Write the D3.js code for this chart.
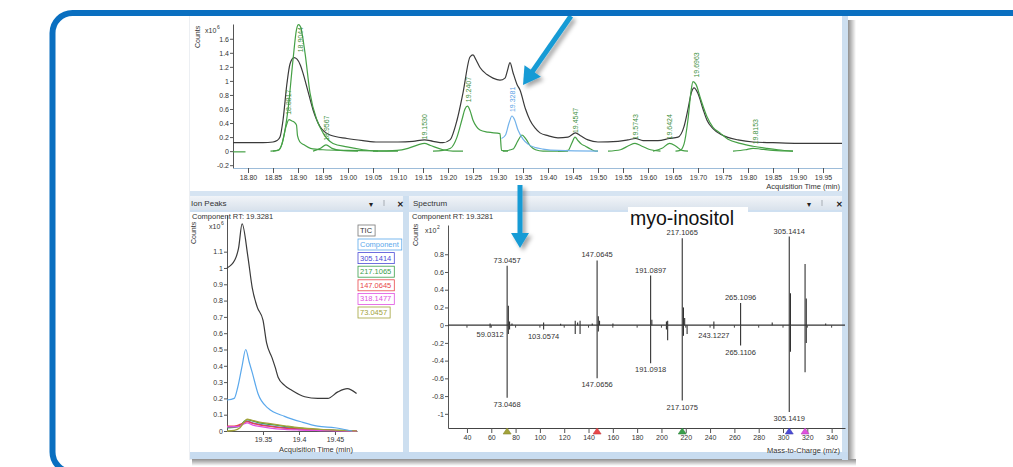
<!DOCTYPE html>
<html lang="en">
<head>
<meta charset="UTF-8">
<title>myo-inositol component</title>
<script src="https://d3js.org/d3.v7.min.js"></script>
<style>
  body { margin: 0; background: #fff; }
  svg text { font-family: "Liberation Sans", Arial, sans-serif; }
</style>
</head>
<body>
<svg width="1013" height="467"></svg>
<script>
// ---------- top chromatogram (min, counts x10^6) ----------
const topXTicks = [18.80,18.85,18.90,18.95,19.00,19.05,19.10,19.15,19.20,19.25,19.30,19.35,19.40,19.45,19.50,19.55,19.60,19.65,19.70,19.75,19.80,19.85,19.90,19.95];
const topYTicks = [-0.2,0,0.2,0.4,0.6,0.8,1,1.2,1.4,1.6];

const ticTop = [[18.77,0.12],[18.80,0.12],[18.83,0.12],[18.85,0.13],[18.858,0.15],[18.864,0.2],[18.87,0.44],[18.878,0.97],[18.884,1.24],[18.892,1.33],[18.898,1.31],[18.905,1.22],[18.91,1.11],[18.92,0.85],[18.93,0.59],[18.944,0.35],[18.964,0.23],[18.998,0.18],[19.03,0.15],[19.06,0.13],[19.10,0.13],[19.13,0.14],[19.153,0.16],[19.17,0.14],[19.19,0.12],[19.204,0.16],[19.218,0.44],[19.23,0.83],[19.244,1.34],[19.25,1.37],[19.256,1.3],[19.264,1.19],[19.278,1.09],[19.29,1.04],[19.304,1.01],[19.314,1.04],[19.319,1.15],[19.324,1.26],[19.33,1.12],[19.338,0.95],[19.344,0.87],[19.355,0.6],[19.364,0.44],[19.374,0.33],[19.384,0.26],[19.40,0.22],[19.42,0.19],[19.44,0.2],[19.455,0.26],[19.465,0.22],[19.48,0.16],[19.50,0.13],[19.54,0.14],[19.56,0.16],[19.575,0.18],[19.59,0.15],[19.62,0.15],[19.643,0.18],[19.66,0.2],[19.672,0.35],[19.68,0.6],[19.687,0.84],[19.692,0.9],[19.70,0.82],[19.71,0.6],[19.718,0.44],[19.73,0.32],[19.745,0.24],[19.758,0.2],[19.78,0.16],[19.81,0.13],[19.85,0.12],[19.90,0.11],[19.988,0.11]];

const cmp18_8817 = [[18.845,0],[18.86,0.01],[18.868,0.1],[18.876,0.35],[18.882,0.45],[18.888,0.43],[18.893,0.41],[18.897,0.37],[18.899,0.22],[18.904,0.13],[18.912,0.09],[18.925,0.04],[18.95,0.02],[19.0,0.01],[19.1,0]];
const cmp18_9044 = [[18.85,0],[18.862,0.02],[18.87,0.16],[18.88,0.59],[18.89,1.3],[18.897,1.73],[18.901,1.8],[18.905,1.77],[18.914,1.4],[18.924,0.83],[18.938,0.44],[18.95,0.26],[18.97,0.11],[18.998,0.06],[19.03,0.02],[19.06,0]];
const cmp18_9567 = [[18.93,0],[18.945,0.04],[18.956,0.09],[18.968,0.04],[18.985,0.01],[19.02,0]];
const cmp19_1530 = [[19.05,0],[19.098,0.01],[19.12,0.04],[19.14,0.09],[19.153,0.11],[19.165,0.08],[19.19,0.02],[19.21,0],[19.23,0]];
const cmp19_2407 = [[19.17,0],[19.19,0.01],[19.205,0.04],[19.218,0.2],[19.228,0.45],[19.234,0.6],[19.239,0.64],[19.244,0.58],[19.25,0.44],[19.257,0.35],[19.264,0.3],[19.28,0.27],[19.304,0.25],[19.307,0.01],[19.32,0]];
const cmp19_3281 = [[19.307,0.18],[19.315,0.23],[19.322,0.4],[19.328,0.5],[19.333,0.45],[19.34,0.3],[19.35,0.17],[19.36,0.1],[19.375,0.05],[19.39,0.03],[19.42,0.01],[19.5,0]];
const cmp19_3480 = [[19.31,0],[19.33,0.03],[19.34,0.15],[19.348,0.23],[19.356,0.17],[19.365,0.07],[19.375,0.02],[19.39,0],[19.44,0]];
const cmp19_4547 = [[19.42,0],[19.44,0.01],[19.448,0.12],[19.454,0.2],[19.46,0.15],[19.467,0.1],[19.475,0.07],[19.485,0.03],[19.495,0],[19.5,0]];
const cmp19_5743 = [[19.52,0],[19.545,0.02],[19.562,0.08],[19.574,0.11],[19.588,0.07],[19.605,0.02],[19.625,0]];
const cmp19_6424 = [[19.61,0],[19.628,0.04],[19.643,0.11],[19.656,0.07],[19.668,0.01],[19.68,0]];
const cmp19_6963 = [[19.655,0],[19.664,0.01],[19.672,0.1],[19.68,0.45],[19.686,0.85],[19.69,0.99],[19.696,0.95],[19.705,0.75],[19.718,0.49],[19.73,0.34],[19.744,0.26],[19.76,0.17],[19.784,0.11],[19.81,0.07],[19.838,0.04],[19.86,0.02],[19.89,0]];
const cmp19_8153 = [[19.77,0],[19.795,0.02],[19.81,0.04],[19.825,0.03],[19.85,0.01],[19.89,0]];

const topPeakLabels = ["18.8817","18.9044","18.9567","19.1530","19.2407","19.3281","19.4547","19.5743","19.6424","19.6963","19.8153"];
const topPeakHeights = [0.46,1.8,0.09,0.11,0.64,0.5,0.2,0.11,0.11,0.99,0.04];

// ---------- ion peaks (min, counts x10^6) ----------
const ionXTicks = [19.35,19.4,19.45];
const ionYTicks = [0,0.1,0.2,0.3,0.4,0.5,0.6,0.7,0.8,0.9,1,1.1];
const ionTicTime = [19.30,19.311,19.316,19.321,19.329,19.335,19.342,19.35,19.355,19.3625,19.367,19.371,19.38,19.39,19.408,19.426,19.44,19.454,19.467,19.48];
const ionTic = [1.0,1.05,1.12,1.27,1.07,0.88,0.76,0.68,0.54,0.45,0.39,0.33,0.28,0.25,0.21,0.2,0.2,0.24,0.26,0.23];
const ionCompTime = [19.30,19.31,19.315,19.321,19.326,19.331,19.335,19.343,19.357,19.38,19.404,19.426,19.45,19.474];
const ionComp = [0.19,0.2,0.27,0.4,0.5,0.42,0.36,0.23,0.14,0.09,0.055,0.03,0.02,0.0];
const ionSmallTime = [19.30,19.31,19.318,19.324,19.328,19.335,19.345,19.36,19.38,19.40,19.43,19.46,19.48];
const ion305 = [0.025,0.027,0.035,0.055,0.06,0.05,0.04,0.03,0.02,0.012,0.006,0.002,0];
const ion217 = [0.02,0.022,0.03,0.06,0.07,0.062,0.05,0.04,0.028,0.018,0.008,0.003,0];
const ion147 = [0.03,0.03,0.04,0.052,0.058,0.048,0.038,0.028,0.018,0.012,0.006,0.002,0];
const ion318 = [0.025,0.026,0.03,0.045,0.05,0.038,0.028,0.018,0.01,0.006,0.003,0.001,0];
const ion73 = [0.0,0.004,0.02,0.055,0.072,0.065,0.055,0.045,0.032,0.02,0.01,0.004,0];
const ionLegend = ["TIC","Component","305.1414","217.1065","147.0645","318.1477","73.0457"];
const ionColors = ["#555555","#5aa8ec","#4b4bd6","#3a9f4a","#e8474a","#e050e0","#a3a33a"];

// ---------- spectrum (m/z, counts x10^2) ----------
const specXTicks = [40,60,80,100,120,140,160,180,200,220,240,260,280,300,320,340];
const specYTicks = [-1,-0.8,-0.6,-0.4,-0.2,0,0.2,0.4,0.6,0.8];
const acqMz  = [59.03,73.05,74.05,75.04,77.04,103.06,117.05,129.07,131.05,133.05,143.07,147.06,148.07,149.05,160.08,191.09,192.09,204.09,205.1,217.11,218.11,219.1,243.12,265.11,291.12,305.14,306.14,318.15,319.15,335.1];
const acqInt = [0.02,0.67,0.22,0.04,0.02,0.03,0.015,0.05,0.03,0.05,0.02,0.73,0.1,0.05,0.02,0.56,0.06,0.04,0.05,0.98,0.2,0.08,0.04,0.25,0.03,1.0,0.36,0.69,0.3,0.02];
const libMz  = [59.03,73.05,74.05,75.04,103.06,129.07,133.05,147.07,148.07,191.09,204.09,205.1,217.11,218.11,221.1,243.12,265.11,305.14,306.14,318.15,319.15];
const libInt = [-0.03,-0.82,-0.1,-0.05,-0.05,-0.1,-0.1,-0.6,-0.07,-0.43,-0.05,-0.17,-0.85,-0.12,-0.1,-0.04,-0.23,-0.98,-0.3,-0.53,-0.2];
const acqLabelMz  = [73.0457,147.0645,191.0897,217.1065,265.1096,305.1414];
const acqLabelInt = [0.67,0.73,0.56,0.98,0.25,1.0];
const libLabelMz  = [73.0468,147.0656,191.0918,217.1075,265.1106,305.1419,59.0312,103.0574,243.1227];
const libLabelInt = [-0.82,-0.6,-0.43,-0.85,-0.23,-0.98,-0.03,-0.05,-0.04];
const markerMz = [73.0457,147.0645,217.1065,305.1414,318.1477];
const markerColors = ["#a3a33a","#e8474a","#3a9f4a","#4b4bd6","#e050e0"];

const svg = d3.select("svg");
const FONT = "Liberation Sans, Arial, sans-serif";
const defs = svg.append("defs");
const sh = defs.append("filter").attr("id", "sh").attr("x", "-50%").attr("y", "-50%").attr("width", "200%").attr("height", "200%");
sh.append("feDropShadow").attr("dx", 3).attr("dy", 3).attr("stdDeviation", 2).attr("flood-color", "#000").attr("flood-opacity", 0.35);
const gShadeH = defs.append("linearGradient").attr("id", "shH");
gShadeH.append("stop").attr("offset", 0).attr("stop-color", "#8f8f8f");
gShadeH.append("stop").attr("offset", 1).attr("stop-color", "#ffffff");
const gShadeV = defs.append("linearGradient").attr("id", "shV").attr("x2", 0).attr("y2", 1);
gShadeV.append("stop").attr("offset", 0).attr("stop-color", "#8f8f8f");
gShadeV.append("stop").attr("offset", 1).attr("stop-color", "#ffffff");
const gTitle = defs.append("linearGradient").attr("id", "tb").attr("x2", 0).attr("y2", 1);
gTitle.append("stop").attr("offset", 0).attr("stop-color", "#f1f4f8");
gTitle.append("stop").attr("offset", 1).attr("stop-color", "#d9e2ec");

function box(x, y, w, h, fill) {
  return svg.append("rect").attr("x", x).attr("y", y).attr("width", w).attr("height", h).attr("fill", fill);
}
function txt(x, y, s, size, opts = {}) {
  return svg.append("text").attr("x", x).attr("y", y).attr("font-size", size)
    .attr("fill", opts.fill || "#333").attr("text-anchor", opts.anchor || "start").text(s);
}

// ---------- window chrome ----------
box(848, 20, 8, 444, "url(#shH)");
box(192, 459, 664, 7, "url(#shV)");
box(189, 16, 3, 444, "#eceff3");
box(190, 16, 652, 176, "#fff");
box(190, 191, 652, 5, "#d6e4f2");
box(190, 196, 213, 14, "url(#tb)");
box(409, 196, 433, 14, "url(#tb)");
box(190, 210, 213, 2, "#cfe0f1");
box(409, 210, 433, 2, "#cfe0f1");
box(190, 212, 213, 240, "#fff");
box(409, 212, 433, 240, "#fff");
box(403, 196, 6, 256, "#cddff0");
box(842, 16, 6, 444, "#cddff0");
box(190, 452, 658, 7, "#c8dcf0");

txt(191, 206, "Ion Peaks", 8);
txt(413, 206, "Spectrum", 8);
[[369, 406], [807, 845]].forEach(([a, b]) => {
  txt(a, 207, "\u25BE", 8, {fill: "#222"});
  box(a + 14, 200, 2, 6, "#c6ccd3");
  txt(b - 6, 207, "\u2715", 8, {fill: "#222", anchor: "middle"}).attr("font-weight", "bold");
});

// ---------- top chart ----------
const xTop = d3.scaleLinear().domain([18.77, 19.988]).range([233, 842]);
const yTop = d3.scaleLinear().domain([-0.24, 1.81]).range([168, 24]);

function styleAxis(g, domainColor) {
  g.attr("font-size", 7).attr("font-family", FONT);
  g.selectAll("text").attr("fill", "#333");
  g.selectAll(".tick line").attr("stroke", "#555");
  g.select(".domain").attr("stroke", domainColor || "#555");
}
const numFmt = d => String(d);

svg.append("g").attr("transform", "translate(233,0)")
  .call(d3.axisLeft(yTop).tickValues(topYTicks).tickSize(3).tickSizeOuter(0).tickPadding(1).tickFormat(numFmt))
  .call(g => styleAxis(g));
svg.append("g").attr("transform", "translate(0,168)")
  .call(d3.axisBottom(xTop).tickValues(topXTicks).tickSize(5).tickSizeOuter(0).tickPadding(2).tickFormat(d3.format(".2f")))
  .call(g => styleAxis(g, "#9dbcd9"));

txt(0, 0, "Counts", 7).attr("transform", "translate(200,48) rotate(-90)");
txt(205, 33, "x10", 7);
txt(217, 29, "6", 5);
txt(840, 189, "Acquisition Time (min)", 7.5, {anchor: "end"});

defs.append("clipPath").attr("id", "cTop").append("rect").attr("x", 233).attr("y", 20).attr("width", 609).attr("height", 148);
const topPlot = svg.append("g").attr("clip-path", "url(#cTop)");
const topLine = d3.line().x(d => xTop(d[0])).y(d => yTop(d[1])).curve(d3.curveMonotoneX);

topPlot.append("path").attr("d", topLine(ticTop)).attr("fill", "none").attr("stroke", "#3a3a3a").attr("stroke-width", 1.2);
const topGreen = [cmp18_8817, cmp18_9044, cmp18_9567, cmp19_1530, cmp19_2407, cmp19_3480, cmp19_4547, cmp19_5743, cmp19_6424, cmp19_6963, cmp19_8153];
topGreen.forEach(c => {
  topPlot.append("path").attr("d", topLine(c)).attr("fill", "none").attr("stroke", "#45a045").attr("stroke-width", 1.2);
});
topPlot.append("path").attr("d", topLine(cmp19_3281)).attr("fill", "none").attr("stroke", "#72b2ea").attr("stroke-width", 1.2);
// component baselines
topPlot.append("path").attr("d", topLine([[18.77, -0.01], [18.795, -0.01]])).attr("stroke", "#45a045").attr("stroke-width", 1.2);

topPeakLabels.forEach((lab, i) => {
  const t = svg.append("text").attr("font-size", 7)
    .attr("fill", lab === "19.3281" ? "#5a9fe6" : "#3d8f3d").text(lab);
  const len = t.node().getComputedTextLength();
  let yb = yTop(topPeakHeights[i]) - 4;
  if (yb - len < 27) yb = 27 + len;
  t.attr("transform", `translate(${xTop(+lab) + 2.5},${yb}) rotate(-90)`);
});

// ---------- ion peaks chart ----------
const xIon = d3.scaleLinear().domain([19.30, 19.4806]).range([227, 357]);
const yIon = d3.scaleLinear().domain([0, 1.325]).range([431, 215]);
svg.append("g").attr("transform", "translate(227,0)")
  .call(d3.axisLeft(yIon).tickValues(ionYTicks).tickSize(3).tickSizeOuter(0).tickPadding(1).tickFormat(numFmt))
  .call(g => styleAxis(g));
svg.append("g").attr("transform", "translate(0,431)")
  .call(d3.axisBottom(xIon).tickValues(ionXTicks).tickSize(4).tickSizeOuter(0).tickPadding(2).tickFormat(numFmt))
  .call(g => styleAxis(g));
txt(192, 219, "Component RT: 19.3281", 7.5);
txt(0, 0, "Counts", 7).attr("transform", "translate(196,244) rotate(-90)");
txt(209, 229, "x10", 7);
txt(221, 225, "6", 5);
txt(316, 452, "Acquisition Time (min)", 7.5, {anchor: "middle"});

const ionLine = d3.line().x(d => xIon(d[0])).y(d => yIon(d[1])).curve(d3.curveMonotoneX);
const smallSeries = [ion305, ion217, ion147, ion318, ion73];
smallSeries.forEach((s, i) => {
  svg.append("path").attr("d", ionLine(d3.zip(ionSmallTime, s))).attr("fill", "none")
    .attr("stroke", ionColors[i + 2]).attr("stroke-width", 1.3);
});
svg.append("path").attr("d", ionLine(d3.zip(ionCompTime, ionComp))).attr("fill", "none").attr("stroke", ionColors[1]).attr("stroke-width", 1.2);
svg.append("path").attr("d", ionLine(d3.zip(ionTicTime, ionTic))).attr("fill", "none").attr("stroke", "#3a3a3a").attr("stroke-width", 1.2);

ionLegend.forEach((lab, i) => {
  const y = i === 0 ? 225 : 239 + (i - 1) * 13.6;
  const r = svg.append("rect").attr("x", 358).attr("y", y).attr("height", 11)
    .attr("fill", "#fff").attr("stroke", i === 0 ? "#777" : ionColors[i]).attr("stroke-width", 0.8);
  const t = svg.append("text").attr("x", 360).attr("y", y + 8).attr("font-size", 7.5)
    .attr("fill", i === 0 ? "#333" : ionColors[i]).text(lab);
  r.attr("width", t.node().getComputedTextLength() + 5);
});

// ---------- spectrum ----------
const xSp = d3.scaleLinear().domain([24.4, 351]).range([448, 845]);
const ySp = d3.scaleLinear().domain([-1.16, 1.13]).range([428, 225]);
svg.append("g").attr("transform", "translate(448,0)")
  .call(d3.axisLeft(ySp).tickValues(specYTicks).tickSize(3).tickSizeOuter(0).tickPadding(1).tickFormat(numFmt))
  .call(g => styleAxis(g));
svg.append("g").attr("transform", "translate(0,428)")
  .call(d3.axisBottom(xSp).tickValues(specXTicks).tickSize(5).tickSizeOuter(0).tickPadding(2).tickFormat(numFmt))
  .call(g => styleAxis(g, "#444"));
txt(412, 219, "Component RT: 19.3281", 7.5);
txt(0, 0, "Counts", 7).attr("transform", "translate(418,246) rotate(-90)");
txt(425, 233, "x10", 7);
txt(437, 229, "2", 5);
txt(840, 453, "Mass-to-Charge (m/z)", 7.5, {anchor: "end"});

svg.append("line").attr("x1", 448).attr("x2", 845).attr("y1", ySp(0)).attr("y2", ySp(0)).attr("stroke", "#333").attr("stroke-width", 1.1);
svg.selectAll(".zt").data(specXTicks).join("line").attr("class", "zt")
  .attr("x1", d => xSp(d)).attr("x2", d => xSp(d)).attr("y1", ySp(0)).attr("y2", ySp(0) + 2.5).attr("stroke", "#444");

svg.selectAll(".acq").data(d3.zip(acqMz, acqInt)).join("line").attr("class", "acq")
  .attr("x1", d => xSp(d[0])).attr("x2", d => xSp(d[0])).attr("y1", ySp(0)).attr("y2", d => ySp(d[1]))
  .attr("stroke", "#333").attr("stroke-width", 1.1);
svg.selectAll(".lib").data(d3.zip(libMz, libInt)).join("line").attr("class", "lib")
  .attr("x1", d => xSp(d[0])).attr("x2", d => xSp(d[0])).attr("y1", ySp(0)).attr("y2", d => ySp(d[1]))
  .attr("stroke", "#333").attr("stroke-width", 1.1);

svg.selectAll(".al").data(d3.zip(acqLabelMz, acqLabelInt)).join("text").attr("class", "al")
  .attr("x", d => xSp(d[0])).attr("y", d => ySp(d[1]) - 3).attr("font-size", 7.5).attr("fill", "#333")
  .attr("text-anchor", "middle").text(d => d[0].toFixed(4));
svg.selectAll(".ll").data(d3.zip(libLabelMz, libLabelInt)).join("text").attr("class", "ll")
  .attr("x", d => xSp(d[0])).attr("y", d => ySp(d[1]) + 9).attr("font-size", 7.5).attr("fill", "#333")
  .attr("text-anchor", "middle").text(d => d[0].toFixed(4));

svg.selectAll(".mk").data(markerMz).join("path").attr("class", "mk")
  .attr("d", d => `M${xSp(d)},${ySp.range()[0]}l4,6h-8z`)
  .attr("fill", (d, i) => markerColors[i]).attr("stroke", (d, i) => d3.color(markerColors[i]).darker(0.5)).attr("stroke-width", 0.6);

// compound name
box(628, 207, 120, 22, "#fff");
txt(630, 225, "myo-inositol", 19.5, {fill: "#111"});

// ---------- arrows ----------
function arrow(x1, y1, x2, y2, hl, hw) {
  const dx = x2 - x1, dy = y2 - y1, L = Math.hypot(dx, dy);
  const ux = dx / L, uy = dy / L, bx = x2 - ux * hl, by = y2 - uy * hl;
  const g = svg.append("g").attr("filter", "url(#sh)");
  g.append("line").attr("x1", x1).attr("y1", y1).attr("x2", bx + ux).attr("y2", by + uy)
    .attr("stroke", "#189bd5").attr("stroke-width", 5);
  g.append("path").attr("d", `M${x2},${y2}L${bx - uy * hw},${by + ux * hw}L${bx + uy * hw},${by - ux * hw}Z`).attr("fill", "#189bd5");
}
arrow(571, 16, 523, 85, 17, 10);
arrow(520, 185, 520, 248, 15, 9);

// outer frame
svg.append("rect").attr("x", 52.5).attr("y", 13).attr("width", 1100).attr("height", 459).attr("rx", 20)
  .attr("fill", "none").attr("stroke", "#0a6fc0").attr("stroke-width", 6);
</script>
</body>
</html>
